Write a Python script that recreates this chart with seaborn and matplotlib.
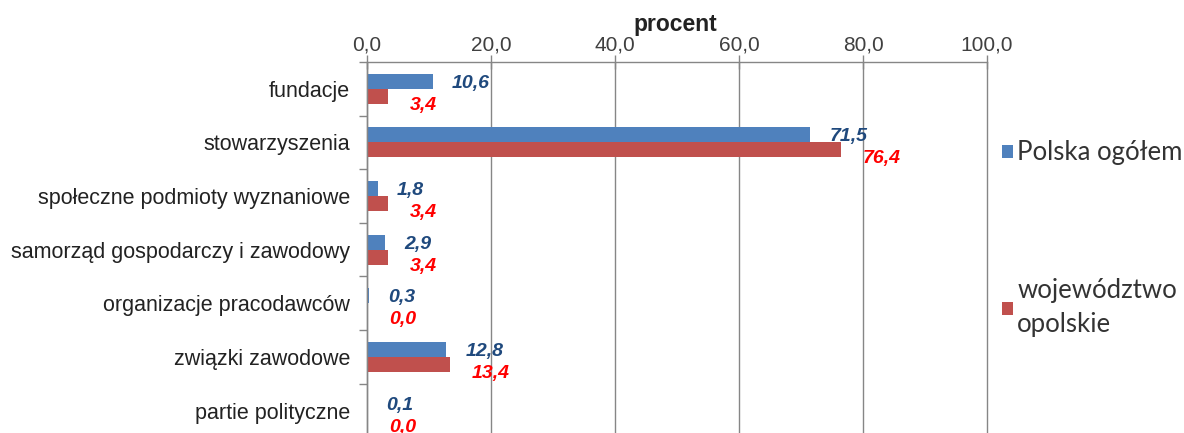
import numpy as np
import pandas as pd
import matplotlib
matplotlib.use('Agg')
import matplotlib.pyplot as plt
import seaborn as sns
from matplotlib.ticker import FuncFormatter, FixedLocator

kategorie = ['fundacje', 'stowarzyszenia', 'społeczne podmioty wyznaniowe',
             'samorząd gospodarczy i zawodowy', 'organizacje pracodawców',
             'związki zawodowe', 'partie polityczne']
polska = [10.6, 71.5, 1.8, 2.9, 0.3, 12.8, 0.1]
opolskie = [3.4, 76.4, 3.4, 3.4, 0.0, 13.4, 0.0]
serie = ['Polska ogółem', 'województwo\nopolskie']

df = pd.DataFrame({
    'kategoria': kategorie * 2,
    'procent': polska + opolskie,
    'seria': [serie[0]] * len(kategorie) + [serie[1]] * len(kategorie),
})

sns.set_style('white')
plt.rcParams['font.family'] = ['Liberation Sans', 'DejaVu Sans']

fig = plt.figure(figsize=(11.84, 4.33), dpi=100)
ax = fig.add_axes([367 / 1184, -0.01, 620 / 1184, 1 - 62 / 433 + 0.01])

sns.barplot(data=df, y='kategoria', x='procent', hue='seria', orient='h',
            palette=['#4F81BD', '#C0504D'], saturation=1, width=0.56,
            linewidth=0, ax=ax, legend=True)

ax.set_xlim(0, 100)
ax.set_xticks([0, 20, 40, 60, 80, 100])
ax.xaxis.set_major_formatter(FuncFormatter(lambda v, p: f'{v:.1f}'.replace('.', ',')))
ax.xaxis.tick_top()
ax.tick_params(axis='x', direction='inout', length=10, width=1, color='#868686',
               labelsize=15, pad=0.5, labelcolor='#404040')
ax.set_xlabel('')
ax.set_ylabel('')
ax.grid(axis='x', color='#868686', linewidth=1)
for gl in ax.get_xgridlines():
    gl.set_clip_on(False)

ax.tick_params(axis='y', which='major', length=0, labelsize=15.5, pad=12, labelcolor='#222222')
ax.yaxis.set_minor_locator(FixedLocator(np.arange(-0.5, len(kategorie), 1.0)))
ax.tick_params(axis='y', which='minor', length=6, width=1, color='#868686', left=True)

for s in ['right', 'bottom']:
    ax.spines[s].set_visible(False)
for s in ['left', 'top']:
    ax.spines[s].set_color('#868686')
    ax.spines[s].set_linewidth(1)

# etykiety danych
for bar, v in zip(ax.containers[0], polska):
    ax.annotate(f'{v:.1f}'.replace('.', ','),
                (bar.get_width(), bar.get_y() + bar.get_height() / 2),
                xytext=(19, -2), textcoords='offset pixels', ha='left', va='center',
                fontsize=14, fontweight='bold', fontstyle='italic', color='#1F497D')
for bar, v in zip(ax.containers[1], opolskie):
    ax.annotate(f'{v:.1f}'.replace('.', ','),
                (bar.get_width(), bar.get_y() + bar.get_height() / 2),
                xytext=(22, -9), textcoords='offset pixels', ha='left', va='center',
                fontsize=14, fontweight='bold', fontstyle='italic', color='#FF0000')

fig.text(675 / 1184, 1 - 25 / 433, 'procent', ha='center', va='center',
         fontsize=16.5, fontweight='bold', color='#222222')

handles, labels = ax.get_legend_handles_labels()
ax.get_legend().remove()
leg = fig.legend(handles, labels, loc='upper left', bbox_to_anchor=(992 / 1184, 1 - 130 / 433),
                 frameon=False, prop={'family': 'Lato', 'size': 18.5},
                 handlelength=0.4, handleheight=0.4, handletextpad=0.18,
                 labelspacing=4.4, borderaxespad=0, labelcolor='#333333')
for t in leg.get_texts():
    t.set_linespacing(1.45)

fig.savefig('out.png', dpi=100)
